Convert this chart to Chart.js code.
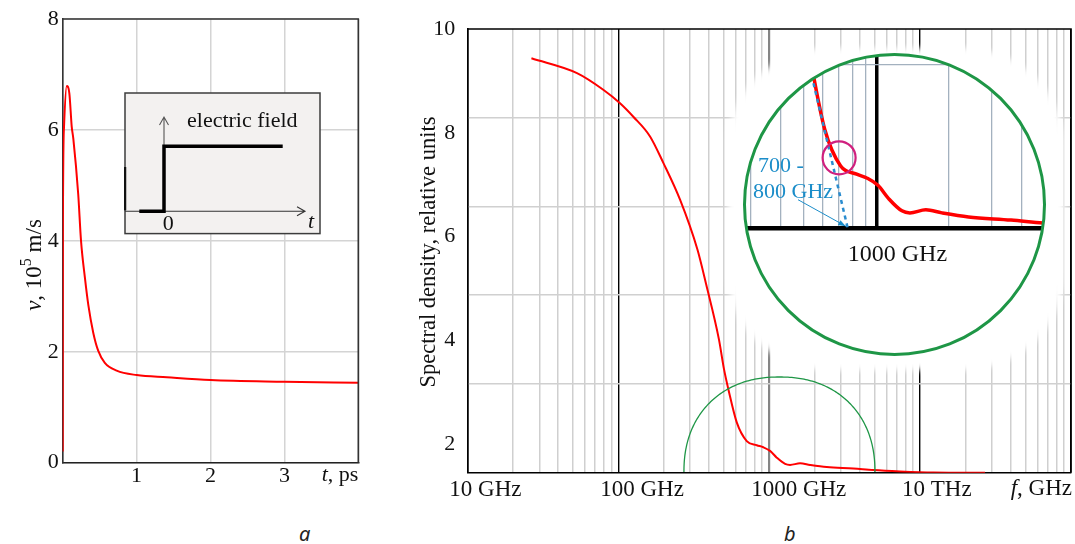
<!DOCTYPE html>
<html lang="en">
<head>
<meta charset="UTF-8">
<title>Velocity overshoot and its spectrum</title>
<script src="https://cdn.jsdelivr.net/npm/chart.js@4.4.1/dist/chart.umd.min.js"></script>
<style>
  body { margin: 0; background: #fff; width: 1075px; height: 544px; position: relative; overflow: hidden;
         font-family: "Liberation Serif", "Times New Roman", serif; }
  canvas { position: absolute; }
  #velChart { left: 0; top: 0; }
  #specChart { left: 400px; top: 0; }
  #inset { position: absolute; left: 124px; top: 91.7px; }
  #halo { position: absolute; left: 728px; top: 48px; width: 336px; height: 322px; background: #fff;
          border-radius: 30%; filter: blur(3px); }
  #lens { position: absolute; left: 744px; top: 54px; width: 300px; height: 300px; border-radius: 50%;
          overflow: hidden; background: #fff; }
  #lensChart { left: -1.75px; top: -1.75px; }
  #ring { position: absolute; left: 742.5px; top: 52.5px; width: 303px; height: 303px; box-sizing: border-box;
          border: 3px solid #1e9646; border-radius: 50%; }
  .cap { position: absolute; top: 520px; font-family: "Noto Sans", "DejaVu Sans", sans-serif; font-style: italic;
         font-size: 20px; color: #222; }
</style>
</head>
<body>

<canvas id="velChart" width="370" height="500"></canvas>

<!-- field step sketch -->
<svg id="inset" width="197" height="143" viewBox="-1 -1 197 143">
  <rect x="0" y="0" width="195" height="140.6" fill="#f3f1f0" stroke="#3c3c3c" stroke-width="1.5"/>
  <line x1="0" y1="74" x2="0" y2="117.3" stroke="#111" stroke-width="2.5"/>
  <path d="M0 118.3 H180 M172 113.8 L180 118.3 L172 122.8" fill="none" stroke="#333" stroke-width="1.1"/>
  <path d="M39 118.3 V24 M34.5 32 L39 24 L43.5 32" fill="none" stroke="#555" stroke-width="1.1"/>
  <polyline points="14.3,118.3 39,118.3 39,53.3 157.7,53.3" fill="none" stroke="#000" stroke-width="3.5"/>
  <text x="62" y="34.3" font-size="22" fill="#111">electric field</text>
  <text x="43.3" y="137.3" font-size="22" text-anchor="middle" fill="#111">0</text>
  <text x="183" y="134.5" font-size="22" font-style="italic" fill="#111">t</text>
</svg>

<canvas id="specChart" width="675" height="500"></canvas>
<div id="halo"></div>
<div id="lens"><canvas id="lensChart" width="304" height="302"></canvas></div>
<div id="ring"></div>

<div class="cap" style="left:299px">a</div>
<div class="cap" style="left:784px">b</div>

<script>
// panel a: drift velocity after the field is switched on
const timePs   = [0, 0.003, 0.018, 0.054, 0.09, 0.122, 0.144, 0.21, 0.248, 0.30, 0.347, 0.414, 0.48, 0.57, 0.73, 1.0, 1.41, 2.0, 3.0, 4.0];
const velocity = [0.2, 4.3, 6.06, 6.79, 6.66, 6.06, 5.84, 4.84, 4.0, 3.34, 2.84, 2.34, 2.02, 1.80, 1.66, 1.58, 1.54, 1.49, 1.46, 1.44];
const velTicks  = [0, 2, 4, 6, 8];
const timeTicks = [1, 2, 3];

// panel b: spectral density of the velocity transient
const freqGHz = [26.6, 53.3, 79.6, 102.8, 125.9, 162.5, 199, 256.8, 334.8, 381.7, 464.8, 502.5, 536.6, 610, 710.5,
                 827.8, 915.3, 1014, 1123, 1275, 1376, 1602, 1866, 2408, 3614, 4903, 7369, 12250, 26960];
const density = [9.435, 9.15, 8.83, 8.57, 8.31, 7.93, 7.42, 6.71, 5.75, 5.09, 4.02, 3.44, 3.06, 2.42, 2.06,
                 1.98, 1.94, 1.87, 1.74, 1.62, 1.60, 1.63, 1.60, 1.56, 1.53, 1.50, 1.475, 1.455, 1.45];
const densityTicks = [2, 4, 6, 8, 10];
const freqDecades  = [10, 100, 1000, 10000];
const freqLabels   = ['10 GHz', '100 GHz', '1000 GHz', '10 THz'];

// magnified view around 1 THz
const lensDecades = [1000];
const lensLabels  = ['1000 GHz'];
const slopeFreq   = [520, 760];   // steepest slope extended down to the axis
const slopeVal    = [3.1, 1.45];
const kneeFreq    = [700];
const kneeVal     = [2.14];

const SERIF = '"Liberation Serif", "Times New Roman", serif';
Chart.defaults.font.family = SERIF;
Chart.defaults.color = '#111';

const pts = (xs, ys) => xs.map((x, i) => ({ x: x, y: ys[i] }));
const setTicks = list => axis => { axis.ticks = list.map(v => ({ value: v })); };
const isDecade = v => Math.abs(Math.log10(v) - Math.round(Math.log10(v))) < 1e-9;
// fixed axis size, no extra edge padding from the labels
const fixSize = (w, h) => s => {
  if (w !== null) s.width = w;
  if (h !== null) s.height = h;
  s.paddingLeft = s.paddingRight = s.paddingTop = s.paddingBottom = 0;
};

function logTicks(lo, hi) {
  const out = [];
  for (let d = Math.pow(10, Math.floor(Math.log10(lo))); d < hi; d *= 10)
    for (let m = 1; m < 10; m++) if (m * d >= lo && m * d <= hi) out.push(m * d);
  return out;
}
function labelFrom(values, labels) {
  return v => {
    const i = values.findIndex(d => Math.abs(d - v) < 1e-6 * d);
    return i < 0 ? '' : labels[i];
  };
}

// top and right sides of the plot box
const frame = color => ({
  id: 'frame',
  afterDraw(chart) {
    const { ctx, chartArea: a } = chart;
    ctx.save();
    ctx.strokeStyle = color;
    ctx.lineWidth = 1.6;
    ctx.beginPath();
    ctx.moveTo(a.left, a.top);
    ctx.lineTo(a.right, a.top);
    ctx.lineTo(a.right, a.bottom);
    ctx.stroke();
    ctx.restore();
  }
});

// text made of runs with their own style: [text, font, raise]
function drawRuns(ctx, runs, x, y, align) {
  let total = 0;
  runs.forEach(r => { ctx.font = r[1]; total += ctx.measureText(r[0]).width; });
  let cx = align === 'center' ? x - total / 2 : x - total;
  runs.forEach(r => {
    ctx.font = r[1];
    ctx.fillText(r[0], cx, y - (r[2] || 0));
    cx += ctx.measureText(r[0]).width;
  });
}

const velTitles = {
  id: 'velTitles',
  afterDraw(chart) {
    const { ctx, chartArea: a } = chart;
    ctx.save();
    ctx.fillStyle = '#111';
    ctx.textAlign = 'left';
    ctx.textBaseline = 'alphabetic';
    ctx.translate(40.5, 265);
    ctx.rotate(-Math.PI / 2);
    drawRuns(ctx, [['v', 'italic 23px ' + SERIF], [', 10', '23px ' + SERIF], ['5', '16px ' + SERIF, 9.5], [' m/s', '23px ' + SERIF]], 0, 0, 'center');
    ctx.restore();
    ctx.save();
    ctx.fillStyle = '#111';
    ctx.textAlign = 'left';
    ctx.textBaseline = 'middle';
    drawRuns(ctx, [['t', 'italic 22px ' + SERIF], [', ps', '22px ' + SERIF]], a.right, a.bottom + 12.5, 'right');
    ctx.restore();
  }
};

new Chart(document.getElementById('velChart'), {
  type: 'line',
  data: { datasets: [{ data: pts(timePs, velocity), borderColor: '#ff0000', borderWidth: 2, pointRadius: 0,
                       cubicInterpolationMode: 'monotone' }] },
  options: {
    responsive: false,
    animation: false,
    layout: { padding: { left: 0, top: 19, right: 11.7, bottom: 0 } },
    plugins: { legend: { display: false }, tooltip: { enabled: false } },
    scales: {
      x: {
        type: 'linear', min: 0, max: 4,
        afterBuildTicks: setTicks([0, ...timeTicks, 4]),
        afterFit: fixSize(null, 37.3),
        ticks: { padding: 0, font: { size: 22 }, maxRotation: 0, callback: v => timeTicks.includes(v) ? String(v) : '' },
        grid: { color: '#d4d4d4', lineWidth: 1.5, drawTicks: false },
        border: { color: '#222', width: 1.6 }
      },
      y: {
        min: 0, max: 8,
        afterBuildTicks: setTicks(velTicks),
        afterFit: fixSize(62.7, null),
        ticks: { padding: 4, font: { size: 22 } },
        grid: { color: '#d4d4d4', lineWidth: 1.5, drawTicks: false },
        border: { color: '#333', width: 1.6 }
      }
    }
  },
  plugins: [frame('#333'), velTitles]
});

// small outline marking the magnified region
const dome = {
  id: 'dome',
  afterDatasetsDraw(chart) {
    const { ctx, chartArea: a, scales: { x } } = chart;
    const cx = x.getPixelForValue(1170), cy = a.bottom - 0.7, rx = 95.5, ry = 95, n = 2.2;
    ctx.save();
    ctx.beginPath();
    ctx.rect(a.left, a.top, a.right - a.left, a.bottom - a.top);
    ctx.clip();
    ctx.beginPath();
    for (let i = 0; i <= 180; i++) {
      const t = Math.PI * i / 180, c = Math.cos(t), s = Math.sin(t);
      const px = cx + rx * Math.sign(c) * Math.pow(Math.abs(c), 2 / n);
      const py = cy - ry * Math.pow(Math.abs(s), 2 / n);
      if (i) ctx.lineTo(px, py); else ctx.moveTo(px, py);
    }
    ctx.strokeStyle = '#1e9646';
    ctx.lineWidth = 1.3;
    ctx.stroke();
    ctx.restore();
  }
};

const specTitles = {
  id: 'specTitles',
  afterDraw(chart) {
    const { ctx, chartArea: a } = chart;
    ctx.save();
    ctx.fillStyle = '#111';
    ctx.textBaseline = 'alphabetic';
    ctx.textAlign = 'center';
    ctx.font = '22.5px ' + SERIF;
    ctx.translate(34.5, 252);
    ctx.rotate(-Math.PI / 2);
    ctx.fillText('Spectral density, relative units', 0, 0);
    ctx.restore();
    ctx.save();
    ctx.fillStyle = '#111';
    ctx.textAlign = 'left';
    ctx.textBaseline = 'middle';
    drawRuns(ctx, [['f', 'italic 23px ' + SERIF], [', GHz', '23px ' + SERIF]], a.right + 1, a.bottom + 16.5, 'right');
    ctx.restore();
  }
};

const yMin = 1.45, yMax = 10;
new Chart(document.getElementById('specChart'), {
  type: 'line',
  data: { datasets: [{ data: pts(freqGHz, density), borderColor: '#ff0000', borderWidth: 2, pointRadius: 0,
                       cubicInterpolationMode: 'monotone' }] },
  options: {
    responsive: false,
    animation: false,
    layout: { padding: { left: 0, top: 29, right: 4, bottom: 0 } },
    plugins: { legend: { display: false }, tooltip: { enabled: false } },
    scales: {
      x: {
        type: 'logarithmic', min: 10, max: 1e5,
        afterBuildTicks: setTicks(logTicks(10, 1e5).concat([1e5])),
        afterFit: fixSize(null, 27.3),
        ticks: { autoSkip: false, maxRotation: 0, minRotation: 0, align: 'start', labelOffset: -18, padding: 3,
                 font: { size: 23 }, callback: labelFrom(freqDecades, freqLabels) },
        grid: {
          drawTicks: false,
          color: c => !isDecade(c.tick.value) ? '#cfcfcf' : (Math.round(c.tick.value) === 1000 ? '#858585' : '#000'),
          lineWidth: c => !isDecade(c.tick.value) ? 1.5 : (Math.round(c.tick.value) === 1000 ? 2.2 : 1.4)
        },
        border: { color: '#000', width: 1.6 }
      },
      y: {
        min: yMin, max: yMax,
        afterBuildTicks: setTicks(densityTicks),
        afterFit: fixSize(67.3, null),
        ticks: { padding: 4, font: { size: 22 } },
        grid: { display: false },
        border: { color: '#000', width: 1.6 }
      },
      // background grid splits the box into five equal bands
      y2: {
        position: 'left', min: yMin, max: yMax,
        afterBuildTicks: axis => { axis.ticks = [1, 2, 3, 4].map(k => ({ value: yMin + k * (yMax - yMin) / 5 })); },
        afterFit: fixSize(0, null),
        ticks: { display: false },
        grid: { color: '#d0d0d0', lineWidth: 1.5, drawTicks: false },
        border: { display: false }
      }
    }
  },
  plugins: [frame('#000'), dome, specTitles]
});

// knee marker, labels and pointer inside the magnified view
const lensNotes = {
  id: 'lensNotes',
  afterDatasetsDraw(chart) {
    const { ctx, chartArea: a, scales: { x, y } } = chart;
    const ox = a.left, oy = a.top;
    ctx.save();
    ctx.strokeStyle = '#d0207e';
    ctx.lineWidth = 2.2;
    kneeFreq.forEach((f, i) => {
      ctx.beginPath();
      ctx.arc(x.getPixelForValue(f), y.getPixelForValue(kneeVal[i]), 16.5, 0, 2 * Math.PI);
      ctx.stroke();
    });
    ctx.fillStyle = '#1b8dc9';
    ctx.strokeStyle = '#1b8dc9';
    ctx.font = '22px ' + SERIF;
    ctx.textBaseline = 'middle';
    ctx.textAlign = 'left';
    ctx.fillText('700 -', ox + 16, oy + 114);
    ctx.fillText('800 GHz', ox + 11, oy + 140);
    const tx = x.getPixelForValue(slopeFreq[1]) - 2, ty = y.getPixelForValue(slopeVal[1]) - 2;
    const sx = ox + 56, sy = oy + 147.7;
    const ang = Math.atan2(ty - sy, tx - sx);
    ctx.lineWidth = 1;
    ctx.beginPath();
    ctx.moveTo(sx, sy);
    ctx.lineTo(tx, ty);
    ctx.stroke();
    ctx.beginPath();
    ctx.moveTo(tx, ty);
    ctx.lineTo(tx - 8 * Math.cos(ang - 0.35), ty - 8 * Math.sin(ang - 0.35));
    ctx.lineTo(tx - 8 * Math.cos(ang + 0.35), ty - 8 * Math.sin(ang + 0.35));
    ctx.closePath();
    ctx.fill();
    ctx.restore();
  }
};

new Chart(document.getElementById('lensChart'), {
  type: 'line',
  data: {
    datasets: [
      { data: pts(slopeFreq, slopeVal), borderColor: '#2a8ccf', borderWidth: 2.5, borderDash: [4, 4], pointRadius: 0 },
      { data: pts(freqGHz, density), borderColor: '#ff0000', borderWidth: 3.5, pointRadius: 0,
        cubicInterpolationMode: 'monotone' }
    ]
  },
  options: {
    responsive: false,
    animation: false,
    layout: { padding: 0 },
    plugins: { legend: { display: false }, tooltip: { enabled: false } },
    scales: {
      x: {
        type: 'logarithmic', min: 277, max: 5045,
        afterBuildTicks: setTicks(logTicks(277, 5045)),
        afterFit: fixSize(null, 125.8),
        ticks: { autoSkip: false, maxRotation: 0, minRotation: 0, align: 'start', labelOffset: -28.7, padding: 12,
                 font: { size: 24 }, callback: labelFrom(lensDecades, lensLabels) },
        grid: {
          drawTicks: false,
          color: c => Math.round(c.tick.value) === 1000 ? '#000' : '#a3b1bf',
          lineWidth: c => Math.round(c.tick.value) === 1000 ? 3.5 : 1.3
        },
        border: { color: '#000', width: 4.5 }
      },
      y: {
        min: 1.45, max: 3.177,
        afterBuildTicks: setTicks([3.05]),
        afterFit: fixSize(0, null),
        ticks: { display: false },
        grid: { color: '#a3b1bf', lineWidth: 1.3, drawTicks: false },
        border: { display: false }
      }
    }
  },
  plugins: [lensNotes]
});
</script>
</body>
</html>
